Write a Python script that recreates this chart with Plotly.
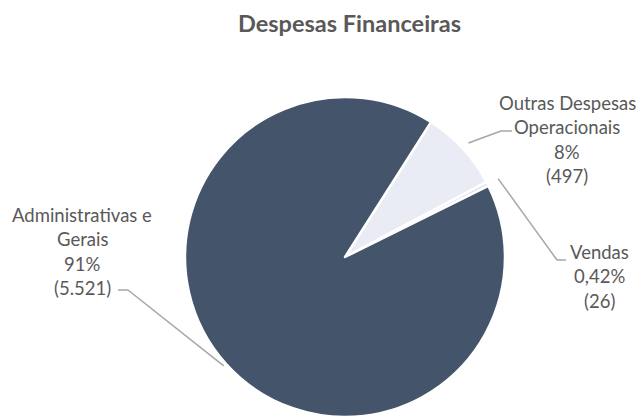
import math
import plotly.graph_objects as go

# ---- data ----
categories = ["Outras Despesas Operacionais", "Vendas", "Administrativas e Gerais"]
values = [497, 26, 5521]
pct_text = ["8%", "0,42%", "91%"]
value_text = ["(497)", "(26)", "(5.521)"]
label_lines = [["Outras Despesas", "Operacionais"], ["Vendas"], ["Administrativas e", "Gerais"]]
colors = ["#E9EBF5", "#DCE1EC", "#44546A"]

W, H = 639, 417
CX, CY, R = 345, 257, 160
ROT = 32.5

def px(x):
    return x / W

def py(y):
    return 1 - y / H

fig = go.Figure()
fig.add_trace(go.Pie(
    labels=categories, values=values, sort=False, direction="clockwise",
    rotation=ROT, marker=dict(colors=colors, line=dict(color="white", width=2.5)),
    textinfo="none", textposition="none", showlegend=False, hoverinfo="label+value+percent",
    domain=dict(x=[px(CX - R), px(CX + R)], y=[py(CY + R), py(CY - R)]),
))

total = sum(values)
cum = 0
mids = []
for v in values:
    a0 = ROT + 360 * cum / total
    cum += v
    a1 = ROT + 360 * cum / total
    mids.append((a0 + a1) / 2)

# label layout (pixel positions of label centers / leader elbows)
label_x = [567, 599, 82]
label_y0 = [103, 252, 215]
line_gap = 24.3
elbows = [((501, 131), (512, 131)), ((557, 260), (566, 260)), ((128, 290), (118, 290))]
start_r = [168, 172, 163]

shapes = []
for i, m in enumerate(mids):
    a = math.radians(m)
    sx = CX + start_r[i] * math.sin(a)
    sy = CY - start_r[i] * math.cos(a)
    (ex, ey), (fx, fy) = elbows[i]
    for (x0, y0, x1, y1) in [(sx, sy, ex, ey), (ex, ey, fx, fy)]:
        shapes.append(dict(type="line", xref="paper", yref="paper",
                           x0=px(x0), y0=py(y0), x1=px(x1), y1=py(y1),
                           line=dict(color="#A6A6A6", width=1.5)))

annotations = []
FONT = "Lato"
for i in range(len(values)):
    lines = label_lines[i] + [pct_text[i], value_text[i]]
    for j, t in enumerate(lines):
        annotations.append(dict(
            text=t, x=px(label_x[i]), y=py(label_y0[i] + j * line_gap),
            xref="paper", yref="paper", xanchor="center", yanchor="middle",
            showarrow=False, font=dict(family=FONT, size=18.5, color="#595959")))

annotations.append(dict(
    text="<b>Despesas Financeiras</b>", x=px(349), y=py(23), xref="paper", yref="paper",
    xanchor="center", yanchor="middle", showarrow=False,
    font=dict(family=FONT, size=23.5, color="#595959")))

fig.update_layout(
    width=W, height=H, margin=dict(l=0, r=0, t=0, b=0),
    paper_bgcolor="white", plot_bgcolor="white",
    shapes=shapes, annotations=annotations,
)
fig.write_html("out.html", config={"displayModeBar": False},
               post_script="document.body.style.margin='0';document.body.style.overflow='hidden';")
